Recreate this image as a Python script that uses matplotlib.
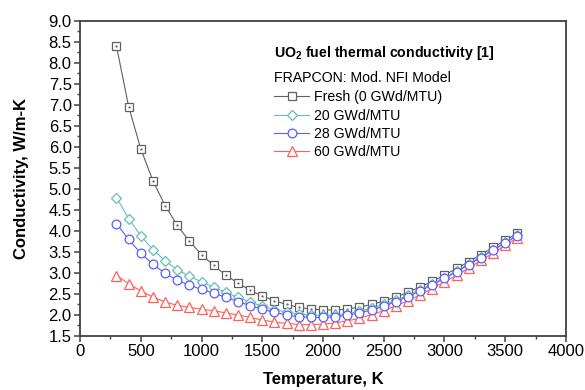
import matplotlib
matplotlib.use("Agg")
import matplotlib.pyplot as plt
from matplotlib.ticker import MultipleLocator, FormatStrFormatter

plt.rcParams['font.family'] = ['Liberation Sans', 'DejaVu Sans']
plt.rcParams['mathtext.fontset'] = 'custom'
plt.rcParams['mathtext.rm'] = 'Liberation Sans'
plt.rcParams['mathtext.bf'] = 'Liberation Sans:bold'

# temperature, K
temperature = list(range(300, 3700, 100))

# conductivity, W/m-K
fresh = [8.40, 6.96, 5.95, 5.19, 4.60, 4.13, 3.75, 3.43, 3.17, 2.94, 2.75, 2.58, 2.44, 2.33, 2.24, 2.17, 2.13,
         2.11, 2.11, 2.13, 2.18, 2.24, 2.32, 2.42, 2.53, 2.66, 2.79, 2.94, 3.10, 3.26, 3.43, 3.60, 3.77, 3.94]
bu20 = [4.79, 4.29, 3.88, 3.55, 3.28, 3.07, 2.91, 2.78, 2.65, 2.53, 2.41, 2.30, 2.20, 2.12, 2.06, 2.01, 1.98,
        1.98, 1.99, 2.02, 2.08, 2.15, 2.24, 2.34, 2.46, 2.59, 2.73, 2.88, 3.04, 3.21, 3.38, 3.55, 3.72, 3.90]
bu28 = [4.17, 3.79, 3.46, 3.20, 2.98, 2.82, 2.70, 2.60, 2.51, 2.41, 2.31, 2.21, 2.13, 2.05, 1.99, 1.95, 1.93,
        1.93, 1.95, 1.98, 2.04, 2.11, 2.20, 2.31, 2.43, 2.56, 2.71, 2.86, 3.02, 3.19, 3.36, 3.53, 3.71, 3.88]
bu60 = [2.93, 2.74, 2.56, 2.42, 2.30, 2.22, 2.17, 2.13, 2.09, 2.04, 1.99, 1.93, 1.87, 1.82, 1.79, 1.76, 1.76,
        1.77, 1.80, 1.85, 1.91, 2.00, 2.09, 2.21, 2.33, 2.47, 2.62, 2.78, 2.94, 3.11, 3.29, 3.47, 3.65, 3.83]

labels = ['Fresh (0 GWd/MTU)', '20 GWd/MTU', '28 GWd/MTU', '60 GWd/MTU']

fig = plt.figure(figsize=(5.85, 3.9), dpi=100)
ax = fig.add_axes([0.1368, 0.1397, 0.8307, 0.8065])

lw = 0.8
mew = 0.9
p0, = ax.plot(temperature, fresh, color='#606060', lw=lw, marker='s', ms=5.4, mfc='white',
              mec='#606060', mew=mew, label=labels[0], zorder=2)
ax.plot(temperature, fresh, ls='none', marker='.', ms=1.2, color='#606060', zorder=2.1)
p1, = ax.plot(temperature, bu20, color='#62c0b2', lw=lw, marker='D', ms=5.0, mfc='white',
              mec='#62c0b2', mew=mew, label=labels[1], zorder=3)
p2, = ax.plot(temperature, bu28, color='#5c5cff', lw=lw, marker='o', ms=6.3, mfc='white',
              mec='#5c5cff', mew=mew, label=labels[2], zorder=5)
p3, = ax.plot(temperature, bu60, color='#ff5f5f', lw=lw, marker='^', ms=6.6, mfc='white',
              mec='#ff5f5f', mew=mew, label=labels[3], zorder=4)

ax.set_xlim(0, 4000)
ax.set_ylim(1.5, 9.0)
ax.xaxis.set_major_locator(MultipleLocator(500))
ax.xaxis.set_minor_locator(MultipleLocator(250))
ax.yaxis.set_major_locator(MultipleLocator(0.5))
ax.yaxis.set_minor_locator(MultipleLocator(0.25))
ax.yaxis.set_major_formatter(FormatStrFormatter('%.1f'))
ax.tick_params(which='major', direction='out', length=4, width=1.1, labelsize=12, pad=2, color='#404040')
ax.tick_params(which='minor', direction='out', length=2.5, width=1.0, color='#404040')
for s in ax.spines.values():
    s.set_linewidth(1.3)
    s.set_color('#404040')

ax.set_xlabel('Temperature, K', fontsize=12, fontweight='bold', va='top')
ax.xaxis.set_label_coords(0.5, -0.115)
ax.set_ylabel('Conductivity, W/m-K', fontsize=12, fontweight='bold')
ax.yaxis.set_label_coords(-0.106, 0.5)

# legend heading
ax.text(0.399, 0.897, r'$\mathbf{UO_2}$ fuel thermal conductivity [1]', transform=ax.transAxes,
        fontsize=10.2, fontweight='bold', va='center', ha='left')
ax.text(0.399, 0.818, 'FRAPCON: Mod. NFI Model', transform=ax.transAxes,
        fontsize=10.2, va='center', ha='left')

ax.legend(handles=[p0, p1, p2, p3], loc='upper left', bbox_to_anchor=(0.399, 0.78),
          frameon=False, fontsize=10.2, handlelength=2.5, handletextpad=0.3,
          labelspacing=0.31, borderaxespad=0, borderpad=0)

fig.savefig('out.png', dpi=100)
